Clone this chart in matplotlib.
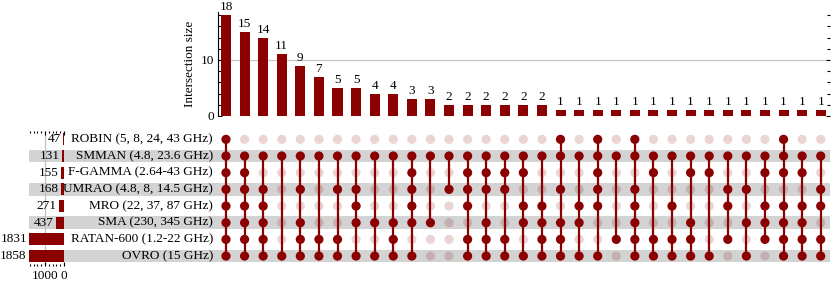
import matplotlib
matplotlib.use("Agg")
import matplotlib.pyplot as plt
from matplotlib.ticker import MultipleLocator, FixedLocator
from matplotlib.patches import Rectangle

plt.rcParams['font.family'] = ['Liberation Serif', 'DejaVu Serif']

# ---------------- data ----------------
set_keys = ['OVRO', 'RATAN', 'SMA', 'MRO', 'UMRAO', 'FGAMMA', 'SMMAN', 'ROBIN']  # bottom -> top
set_labels = ['OVRO (15 GHz)', 'RATAN-600 (1.2-22 GHz)', 'SMA (230, 345 GHz)',
              'MRO (22, 37, 87 GHz)', 'UMRAO (4.8, 8, 14.5 GHz)', 'F-GAMMA (2.64-43 GHz)',
              'SMMAN (4.8, 23.6 GHz)', 'ROBIN (5, 8, 24, 43 GHz)']
set_sizes = [1858, 1831, 437, 271, 168, 155, 131, 47]

intersection_sizes = [18, 15, 14, 11, 9, 7, 5, 5, 4, 4, 3, 3,
                      2, 2, 2, 2, 2, 2,
                      1, 1, 1, 1, 1, 1, 1, 1, 1, 1, 1, 1, 1, 1, 1]

memberships = [
    ['ROBIN', 'SMMAN', 'FGAMMA', 'UMRAO', 'MRO', 'SMA', 'RATAN', 'OVRO'],
    ['SMMAN', 'FGAMMA', 'UMRAO', 'MRO', 'SMA', 'RATAN', 'OVRO'],
    ['SMMAN', 'UMRAO', 'MRO', 'SMA', 'RATAN', 'OVRO'],
    ['SMMAN', 'OVRO'],
    ['SMMAN', 'UMRAO', 'SMA', 'RATAN', 'OVRO'],
    ['SMMAN', 'RATAN', 'OVRO'],
    ['SMMAN', 'UMRAO', 'RATAN', 'OVRO'],
    ['SMMAN', 'UMRAO', 'MRO', 'SMA', 'OVRO'],
    ['SMMAN', 'SMA', 'OVRO'],
    ['SMMAN', 'SMA', 'RATAN', 'OVRO'],
    ['SMMAN', 'FGAMMA', 'UMRAO', 'MRO', 'SMA', 'OVRO'],
    ['SMMAN', 'SMA'],
    ['SMMAN', 'UMRAO'],
    ['SMMAN', 'FGAMMA', 'UMRAO', 'MRO', 'RATAN', 'OVRO'],
    ['SMMAN', 'FGAMMA', 'UMRAO', 'SMA', 'RATAN', 'OVRO'],
    ['SMMAN', 'FGAMMA', 'UMRAO', 'RATAN', 'OVRO'],
    ['SMMAN', 'FGAMMA', 'MRO', 'SMA', 'OVRO'],
    ['SMMAN', 'MRO', 'SMA', 'RATAN', 'OVRO'],
    ['ROBIN', 'SMMAN', 'UMRAO', 'SMA', 'RATAN', 'OVRO'],
    ['SMMAN', 'MRO', 'SMA', 'OVRO'],
    ['ROBIN', 'SMMAN', 'FGAMMA', 'UMRAO', 'MRO', 'OVRO'],
    ['SMMAN', 'RATAN'],
    ['ROBIN', 'SMMAN', 'UMRAO', 'MRO', 'SMA', 'RATAN', 'OVRO'],
    ['SMMAN', 'FGAMMA', 'RATAN', 'OVRO'],
    ['SMMAN', 'MRO', 'RATAN', 'OVRO'],
    ['SMMAN', 'FGAMMA', 'SMA', 'RATAN', 'OVRO'],
    ['SMMAN', 'FGAMMA', 'OVRO'],
    ['SMMAN', 'UMRAO', 'MRO', 'RATAN'],
    ['SMMAN', 'UMRAO', 'SMA', 'OVRO'],
    ['SMMAN', 'FGAMMA', 'MRO', 'SMA', 'RATAN'],
    ['ROBIN', 'SMMAN', 'FGAMMA', 'MRO', 'SMA', 'RATAN', 'OVRO'],
    ['SMMAN', 'FGAMMA', 'MRO', 'SMA', 'RATAN', 'OVRO'],
    ['SMMAN', 'UMRAO', 'MRO', 'RATAN', 'OVRO'],
]

# ---------------- layout ----------------
W, H = 833, 287
fig = plt.figure(figsize=(W / 100, H / 100), dpi=100)
fig.patch.set_facecolor('white')


def box(x0, y0, x1, y1):
    return [x0 / W, 1 - y1 / H, (x1 - x0) / W, (y1 - y0) / H]


DARK = '#8b0000'
FS = 9.5
ncol = len(intersection_sizes)
nrow = len(set_keys)
xlim = (-0.43, ncol - 0.5)
ylim_m = (-0.5, nrow - 0.5)

ax_bar = fig.add_axes(box(218, 12, 830, 116), facecolor='none')
ax_mat = fig.add_axes(box(218, 131, 830, 264.4), facecolor='none')
ax_set = fig.add_axes(box(28.5, 131, 64, 266), facecolor='none')

# shading bands (figure level, behind axes)
row_px = (264.4 - 131) / nrow
for r in range(0, nrow, 2):
    yc = 264.4 - (r + 0.5) * row_px
    hb = 0.76 * row_px
    fig.patches.append(Rectangle(((29) / W, 1 - (yc + hb / 2) / H), (830 - 29) / W, hb / H,
                                 transform=fig.transFigure, facecolor='#d3d3d3',
                                 edgecolor='none', zorder=-5))

# ---------------- intersection bars ----------------
xs = list(range(ncol))
ax_bar.bar(xs, intersection_sizes, width=0.54, color=DARK, zorder=3)
for x, v in zip(xs, intersection_sizes):
    ax_bar.annotate(str(v), (x, v), xytext=(0, 1.5), textcoords='offset points',
                    ha='center', va='bottom', fontsize=FS)
ax_bar.set_xlim(*xlim)
ax_bar.set_ylim(0, 18.57)
ax_bar.set_xticks([])
ax_bar.yaxis.set_major_locator(FixedLocator([0, 10]))
ax_bar.yaxis.set_minor_locator(MultipleLocator(2))
ax_bar.tick_params(axis='y', which='both', left=True, right=True, direction='in',
                   labelsize=FS, pad=3)
ax_bar.tick_params(axis='y', which='major', length=3, width=0.8)
ax_bar.tick_params(axis='y', which='minor', length=2, width=0.8)
ax_bar.grid(axis='y', which='major', color='#c8c8c8', linewidth=0.9, zorder=0)
for s in ['top', 'right', 'bottom']:
    ax_bar.spines[s].set_visible(False)
ax_bar.spines['left'].set_linewidth(0.8)
ax_bar.set_ylabel('Intersection size', fontsize=FS, labelpad=3)

# ---------------- matrix ----------------
ax_mat.set_xlim(*xlim)
ax_mat.set_ylim(*ylim_m)
for s in ax_mat.spines.values():
    s.set_visible(False)
ax_mat.set_xticks([])
ax_mat.set_yticks([])
for x, mem in zip(xs, memberships):
    rows_in = [set_keys.index(m) for m in mem]
    rows_out = [r for r in range(nrow) if r not in rows_in]
    ax_mat.scatter([x] * len(rows_out), rows_out, s=44, color=DARK, alpha=0.17,
                   edgecolors='none', zorder=2)
    ax_mat.plot([x, x], [min(rows_in), max(rows_in)], color=DARK, lw=1.6, zorder=3,
                solid_capstyle='butt')
    ax_mat.scatter([x] * len(rows_in), rows_in, s=44, color=DARK, edgecolors='none',
                   zorder=4)

# set labels
for r, lab in enumerate(set_labels):
    ax_mat.text(-0.43 - 5 / 18.59, r, lab, ha='right', va='center', fontsize=FS)

# ---------------- set size bars ----------------
ax_set.barh(range(nrow), set_sizes, height=0.72, color=DARK, zorder=3)
ax_set.set_xlim(1868, 0)
ax_set.set_ylim(-0.5 - 1.6 / row_px, nrow - 0.5)
ax_set.set_yticks([])
for r, v in enumerate(set_sizes):
    ax_set.annotate(str(v), (v, r), xytext=(-1.5, 0), textcoords='offset points',
                    ha='right', va='center', fontsize=FS, annotation_clip=False)
for s in ax_set.spines.values():
    s.set_visible(False)
ax_set.xaxis.set_major_locator(FixedLocator([1000, 0]))
ax_set.xaxis.set_minor_locator(MultipleLocator(200))
ax_set.tick_params(axis='x', which='both', bottom=True, top=True, direction='in',
                   labelsize=FS, pad=3)
ax_set.tick_params(axis='x', which='major', length=3, width=0.8)
ax_set.tick_params(axis='x', which='minor', length=1.5, width=0.8)
ax_set.grid(axis='x', which='major', color='#c0c0c0', linewidth=0.9, zorder=0)

fig.savefig('out.png', dpi=100)
